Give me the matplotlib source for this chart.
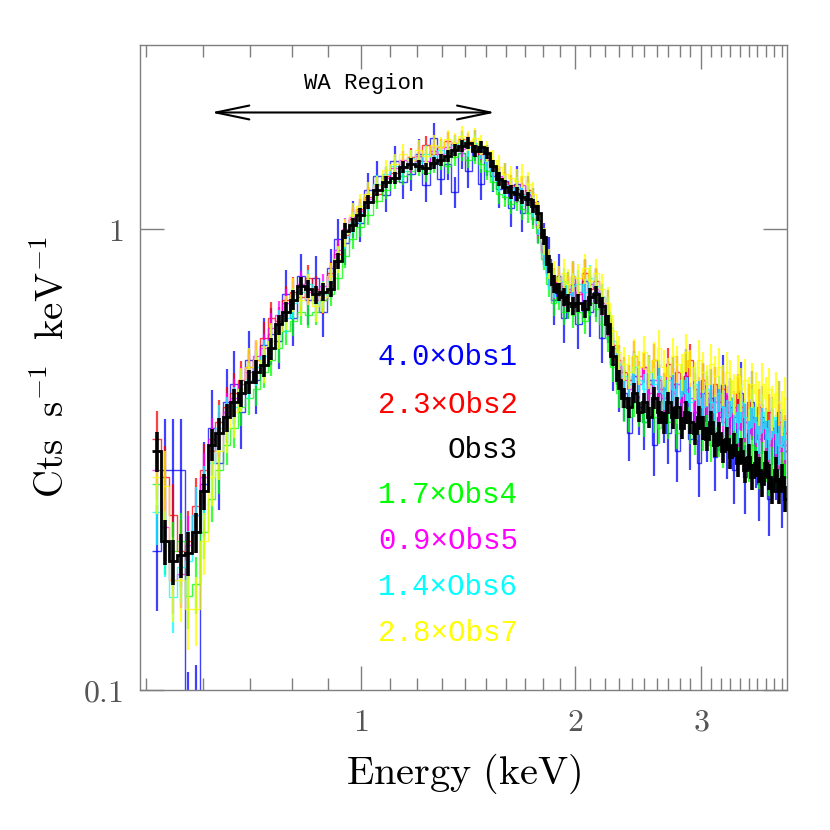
import numpy as np
import matplotlib
matplotlib.use('Agg')
import matplotlib.pyplot as plt

plt.rcParams['mathtext.fontset'] = 'cm'

# bin edges (keV), 110 bins shared by all observations
edges = [0.510, 0.524, 0.538, 0.552, 0.566, 0.580, 0.595, 0.610, 0.625, 0.640,
         0.656, 0.672, 0.688, 0.705, 0.722, 0.740, 0.758, 0.776, 0.795, 0.814,
         0.834, 0.854, 0.875, 0.896, 0.918, 0.940, 0.963, 0.986, 1.010,
         1.040, 1.070, 1.100, 1.130, 1.160, 1.190, 1.220, 1.250, 1.280, 1.310,
         1.340, 1.370, 1.400, 1.430, 1.460, 1.490, 1.520, 1.550, 1.580, 1.610,
         1.640, 1.670, 1.700, 1.730, 1.760, 1.790, 1.820, 1.850, 1.880, 1.910,
         1.940, 1.970, 2.000,
         2.04, 2.08, 2.12, 2.16, 2.20, 2.24, 2.28, 2.32, 2.36, 2.40,
         2.44, 2.48, 2.52, 2.56, 2.60, 2.64, 2.68, 2.72, 2.76, 2.80,
         2.84, 2.88, 2.92, 2.96, 3.00, 3.04, 3.08, 3.12, 3.16, 3.20,
         3.24, 3.28, 3.32, 3.36, 3.40, 3.44, 3.48, 3.52, 3.56, 3.60,
         3.64, 3.68, 3.72, 3.76, 3.80, 3.84, 3.88, 3.92, 3.96]

# scaled count rates (Cts/s/keV)
obs1 = [0.20, 0.30, 0.30, 0.30, 0.085, 0.09, 0.28, 0.37, 0.31, 0.42,
        0.46, 0.40, 0.52, 0.47, 0.56, 0.59, 0.57, 0.72, 0.64, 0.79,
        0.70, 0.78, 0.66, 0.82, 0.95, 0.93, 1.05, 1.03,
        1.21, 1.30, 1.18, 1.40, 1.26, 1.31, 1.45, 1.24, 1.57, 1.28,
        1.38, 1.20, 1.46, 1.33, 1.52, 1.25, 1.41, 1.30, 1.22, 1.27,
        1.11, 1.25, 1.08, 1.19, 1.12, 1.04, 0.93, 0.86, 0.70, 0.79,
        0.64, 0.72, 0.76,
        0.62, 0.77, 0.66, 0.73, 0.58, 0.65, 0.51, 0.46, 0.44, 0.36,
        0.48, 0.41, 0.38, 0.47, 0.34, 0.44, 0.40, 0.36, 0.46, 0.33,
        0.42, 0.48, 0.35, 0.40, 0.31, 0.44, 0.37, 0.43, 0.32, 0.39,
        0.46, 0.34, 0.41, 0.30, 0.38, 0.44, 0.29, 0.36, 0.42, 0.33,
        0.28, 0.39, 0.35, 0.26, 0.37, 0.31, 0.40, 0.27, 0.33]
obs2 = [0.35, 0.29, 0.24, 0.20, 0.21, 0.25, 0.30, 0.33, 0.38, 0.41,
        0.44, 0.47, 0.50, 0.52, 0.58, 0.64, 0.63, 0.70, 0.73, 0.71,
        0.78, 0.74, 0.70, 0.80, 0.88, 0.97, 1.05, 1.10,
        1.17, 1.19, 1.30, 1.32, 1.35, 1.43, 1.40, 1.52, 1.45, 1.50,
        1.55, 1.49, 1.56, 1.52, 1.50, 1.45, 1.41, 1.33, 1.29, 1.26,
        1.24, 1.22, 1.19, 1.21, 1.14, 1.01, 0.89, 0.80, 0.77, 0.74,
        0.75, 0.73, 0.79,
        0.72, 0.80, 0.74, 0.77, 0.71, 0.64, 0.56, 0.52, 0.49, 0.47,
        0.53, 0.48, 0.50, 0.46, 0.52, 0.47, 0.45, 0.51, 0.46, 0.49,
        0.44, 0.48, 0.52, 0.45, 0.43, 0.47, 0.44, 0.41, 0.46, 0.42,
        0.45, 0.40, 0.43, 0.39, 0.44, 0.41, 0.38, 0.42, 0.39, 0.37,
        0.41, 0.38, 0.36, 0.40, 0.37, 0.35, 0.38, 0.34, 0.36]
obs3 = [0.33, 0.21, 0.19, 0.196, 0.198, 0.22, 0.27, 0.34, 0.36, 0.39,
        0.42, 0.44, 0.465, 0.49, 0.505, 0.55, 0.62, 0.66, 0.70, 0.75,
        0.74, 0.72, 0.73, 0.74, 0.85, 0.99, 1.02, 1.07,
        1.14, 1.21, 1.26, 1.29, 1.36, 1.38, 1.37, 1.35, 1.39, 1.41,
        1.44, 1.48, 1.51, 1.53, 1.47, 1.50, 1.46, 1.37, 1.28, 1.23,
        1.20, 1.19, 1.17, 1.16, 1.12, 1.08, 0.96, 0.84, 0.76, 0.73,
        0.71, 0.69, 0.68,
        0.69, 0.67, 0.71, 0.72, 0.68, 0.62, 0.53, 0.47, 0.43, 0.41,
        0.44, 0.40, 0.42, 0.39, 0.43, 0.40, 0.38, 0.42, 0.39, 0.41,
        0.37, 0.40, 0.38, 0.36, 0.39, 0.37, 0.35, 0.38, 0.34, 0.36,
        0.33, 0.35, 0.32, 0.34, 0.31, 0.33, 0.30, 0.32, 0.29, 0.31,
        0.30, 0.28, 0.31, 0.29, 0.27, 0.30, 0.27, 0.29, 0.26]
obs4 = [0.28, 0.21, 0.20, 0.21, 0.16, 0.17, 0.22, 0.26, 0.30, 0.34,
        0.37, 0.41, 0.43, 0.45, 0.49, 0.52, 0.55, 0.60, 0.63, 0.66,
        0.65, 0.66, 0.70, 0.72, 0.78, 0.87, 0.95, 1.01,
        1.07, 1.15, 1.21, 1.27, 1.30, 1.33, 1.36, 1.32, 1.38, 1.40,
        1.37, 1.43, 1.46, 1.41, 1.44, 1.38, 1.33, 1.26, 1.19, 1.17,
        1.13, 1.15, 1.10, 1.08, 1.05, 0.98, 0.86, 0.76, 0.69, 0.71,
        0.66, 0.68, 0.65,
        0.66, 0.63, 0.69, 0.67, 0.62, 0.58, 0.50, 0.44, 0.41, 0.39,
        0.42, 0.40, 0.38, 0.41, 0.39, 0.37, 0.42, 0.38, 0.40, 0.36,
        0.39, 0.41, 0.37, 0.35, 0.39, 0.36, 0.38, 0.34, 0.37, 0.35,
        0.33, 0.37, 0.34, 0.36, 0.32, 0.35, 0.33, 0.31, 0.34, 0.32,
        0.30, 0.33, 0.31, 0.29, 0.32, 0.30, 0.28, 0.31, 0.29]
obs5 = [0.30, 0.225, 0.173, 0.178, 0.206, 0.24, 0.29, 0.35, 0.36, 0.40,
        0.43, 0.46, 0.49, 0.53, 0.55, 0.61, 0.65, 0.69, 0.72, 0.76,
        0.73, 0.70, 0.75, 0.79, 0.90, 1.00, 1.06, 1.09,
        1.16, 1.24, 1.29, 1.35, 1.41, 1.38, 1.44, 1.40, 1.47, 1.45,
        1.50, 1.53, 1.49, 1.55, 1.51, 1.47, 1.42, 1.35, 1.30, 1.25,
        1.23, 1.20, 1.24, 1.18, 1.13, 1.02, 0.90, 0.80, 0.75, 0.77,
        0.72, 0.74, 0.71,
        0.73, 0.70, 0.76, 0.74, 0.69, 0.63, 0.55, 0.50, 0.47, 0.45,
        0.48, 0.46, 0.50, 0.44, 0.47, 0.45, 0.43, 0.48, 0.44, 0.46,
        0.42, 0.45, 0.43, 0.40, 0.44, 0.41, 0.43, 0.39, 0.42, 0.40,
        0.38, 0.42, 0.39, 0.41, 0.37, 0.40, 0.38, 0.36, 0.39, 0.37,
        0.35, 0.38, 0.36, 0.34, 0.37, 0.35, 0.33, 0.36, 0.34]
obs6 = [0.243, 0.21, 0.159, 0.185, 0.19, 0.24, 0.27, 0.31, 0.37, 0.39,
        0.41, 0.45, 0.47, 0.50, 0.53, 0.57, 0.62, 0.64, 0.69, 0.73,
        0.76, 0.69, 0.72, 0.77, 0.86, 0.96, 1.03, 1.08,
        1.15, 1.25, 1.31, 1.37, 1.33, 1.42, 1.39, 1.45, 1.43, 1.48,
        1.46, 1.52, 1.55, 1.50, 1.53, 1.48, 1.40, 1.33, 1.27, 1.24,
        1.21, 1.23, 1.18, 1.20, 1.12, 1.03, 0.88, 0.79, 0.76, 0.74,
        0.77, 0.72, 0.75,
        0.76, 0.73, 0.78, 0.75, 0.71, 0.66, 0.57, 0.51, 0.48, 0.46,
        0.50, 0.47, 0.45, 0.49, 0.46, 0.48, 0.44, 0.47, 0.45, 0.43,
        0.47, 0.44, 0.42, 0.46, 0.43, 0.41, 0.45, 0.42, 0.40, 0.44,
        0.41, 0.39, 0.43, 0.40, 0.38, 0.42, 0.39, 0.37, 0.41, 0.38,
        0.36, 0.40, 0.37, 0.35, 0.39, 0.36, 0.34, 0.37, 0.35]
obs7 = [0.29, 0.277, 0.173, 0.173, 0.15, 0.15, 0.21, 0.29, 0.33, 0.37,
        0.40, 0.45, 0.50, 0.52, 0.51, 0.57, 0.60, 0.66, 0.72, 0.70,
        0.74, 0.68, 0.71, 0.79, 0.86, 0.98, 1.07, 1.12,
        1.19, 1.24, 1.34, 1.38, 1.45, 1.41, 1.48, 1.44, 1.52, 1.50,
        1.56, 1.53, 1.59, 1.55, 1.57, 1.52, 1.47, 1.41, 1.36, 1.31,
        1.29, 1.27, 1.30, 1.25, 1.19, 1.07, 0.94, 0.84, 0.79, 0.77,
        0.80, 0.76, 0.79,
        0.78, 0.82, 0.77, 0.80, 0.74, 0.69, 0.60, 0.54, 0.51, 0.49,
        0.53, 0.50, 0.54, 0.49, 0.52, 0.55, 0.50, 0.48, 0.53, 0.51,
        0.49, 0.54, 0.50, 0.47, 0.52, 0.49, 0.46, 0.51, 0.48, 0.50,
        0.46, 0.49, 0.47, 0.44, 0.48, 0.45, 0.47, 0.43, 0.46, 0.44,
        0.42, 0.46, 0.43, 0.45, 0.41, 0.44, 0.42, 0.40, 0.43]

# fractional 1-sigma error of Obs3 per bin
rel_err = [0.10, 0.11, 0.11, 0.11, 0.11, 0.10, 0.09, 0.08, 0.08, 0.07,
           0.07, 0.065, 0.06, 0.06, 0.055, 0.055, 0.05, 0.05, 0.05, 0.045,
           0.045, 0.045, 0.045, 0.04, 0.04, 0.04, 0.035, 0.035,
           0.035, 0.03, 0.03, 0.03, 0.03, 0.03, 0.03, 0.03, 0.03, 0.03,
           0.03, 0.03, 0.03, 0.03, 0.03, 0.03, 0.03, 0.03, 0.035, 0.035,
           0.035, 0.035, 0.035, 0.035, 0.035, 0.04, 0.04, 0.045, 0.045, 0.045,
           0.045, 0.045, 0.045,
           0.045, 0.045, 0.045, 0.045, 0.045, 0.05, 0.05, 0.05, 0.05, 0.05,
           0.05, 0.05, 0.05, 0.05, 0.055, 0.055, 0.055, 0.055, 0.055, 0.055,
           0.055, 0.055, 0.055, 0.055, 0.06, 0.06, 0.06, 0.06, 0.06, 0.06,
           0.06, 0.06, 0.06, 0.06, 0.065, 0.065, 0.065, 0.065, 0.065, 0.065,
           0.065, 0.065, 0.065, 0.065, 0.065, 0.065, 0.065, 0.065, 0.065]

labels = ['4.0\u00d7Obs1', '2.3\u00d7Obs2', 'Obs3', '1.7\u00d7Obs4',
          '0.9\u00d7Obs5', '1.4\u00d7Obs6', '2.8\u00d7Obs7']
colors = ['#0000ff', '#ff0000', '#000000', '#00ff00', '#ff00ff', '#00ffff', '#ffff00']
err_scale = [2.6, 1.5, 1.0, 1.4, 1.4, 1.5, 1.7]
spectra = [obs1, obs2, obs3, obs4, obs5, obs6, obs7]

edges = np.array(edges)
centers = 0.5 * (edges[:-1] + edges[1:])
rel_err = np.array(rel_err)

fig = plt.figure(figsize=(8.3, 8.3), dpi=100)
ax = fig.add_axes([0.1687, 0.1687, 0.7793, 0.7771])
ax.set_xscale('log')
ax.set_yscale('log')

# colours first, Obs3 (black) on top
order = [0, 1, 3, 4, 5, 6, 2]
for i in order:
    vals = np.array(spectra[i])
    err = vals * rel_err * err_scale[i]
    if i == 2:
        lw, al, z = 2.0, 1.0, 5
    else:
        lw, al, z = 1.0, 0.75, 2
    ax.stairs(vals, edges, baseline=None, color=colors[i], lw=lw, alpha=al, zorder=z)
    ax.vlines(centers, vals - err, vals + err, color=colors[i], lw=lw + 0.6,
              alpha=al, zorder=z)

ax.set_xlim(0.49, 3.96)
ax.set_ylim(0.1, 2.5)

grey = '#7f7f7f'
for sp in ax.spines.values():
    sp.set_color(grey)
    sp.set_linewidth(1.0)

ax.set_xticks([1, 2, 3])
ax.set_xticklabels(['$1$', '$2$', '$3$'])
minor = [0.5, 0.6, 0.7, 0.8, 0.9] + [1 + 0.1 * k for k in range(1, 10)] \
    + [2 + 0.1 * k for k in range(1, 10)] + [3 + 0.1 * k for k in range(1, 10)]
ax.set_xticks(minor, minor=True)
ax.set_xticklabels([], minor=True)
ax.set_yticks([0.1, 1])
ax.set_yticklabels(['$0.1$', '$1$'])
ax.yaxis.set_minor_locator(matplotlib.ticker.NullLocator())
ax.tick_params(which='both', direction='in', top=True, right=True, color=grey,
               width=1.0, labelsize=23, labelcolor='#555555')
ax.tick_params(which='major', length=17, pad=12)
ax.tick_params(which='minor', length=8.5)

ax.set_xlabel(r'$\mathrm{Energy\ (keV)}$', fontsize=29, labelpad=10)
ax.set_ylabel(r'$\mathrm{Cts\ \ s^{-1}\ \ keV^{-1}}$', fontsize=28, labelpad=8)

# WA region arrow
ax.annotate('', xy=(0.616, 1.785), xytext=(1.545, 1.785),
            arrowprops=dict(arrowstyle='<->,head_length=2.4,head_width=0.5',
                            color='black', lw=1.5, shrinkA=0, shrinkB=0))
ax.text(1.01, 2.06, 'WA Region', family='Liberation Mono', fontsize=16,
        ha='center', va='center', color='black')

ys = [0.516, 0.442, 0.372, 0.302, 0.231, 0.160, 0.088]
for lab, c, yy in zip(labels, colors, ys):
    ax.text(0.584, yy, lab, transform=ax.transAxes, ha='right', va='center',
            family='Liberation Mono', fontsize=21, color=c, zorder=10)

plt.savefig('out.png', dpi=100)
